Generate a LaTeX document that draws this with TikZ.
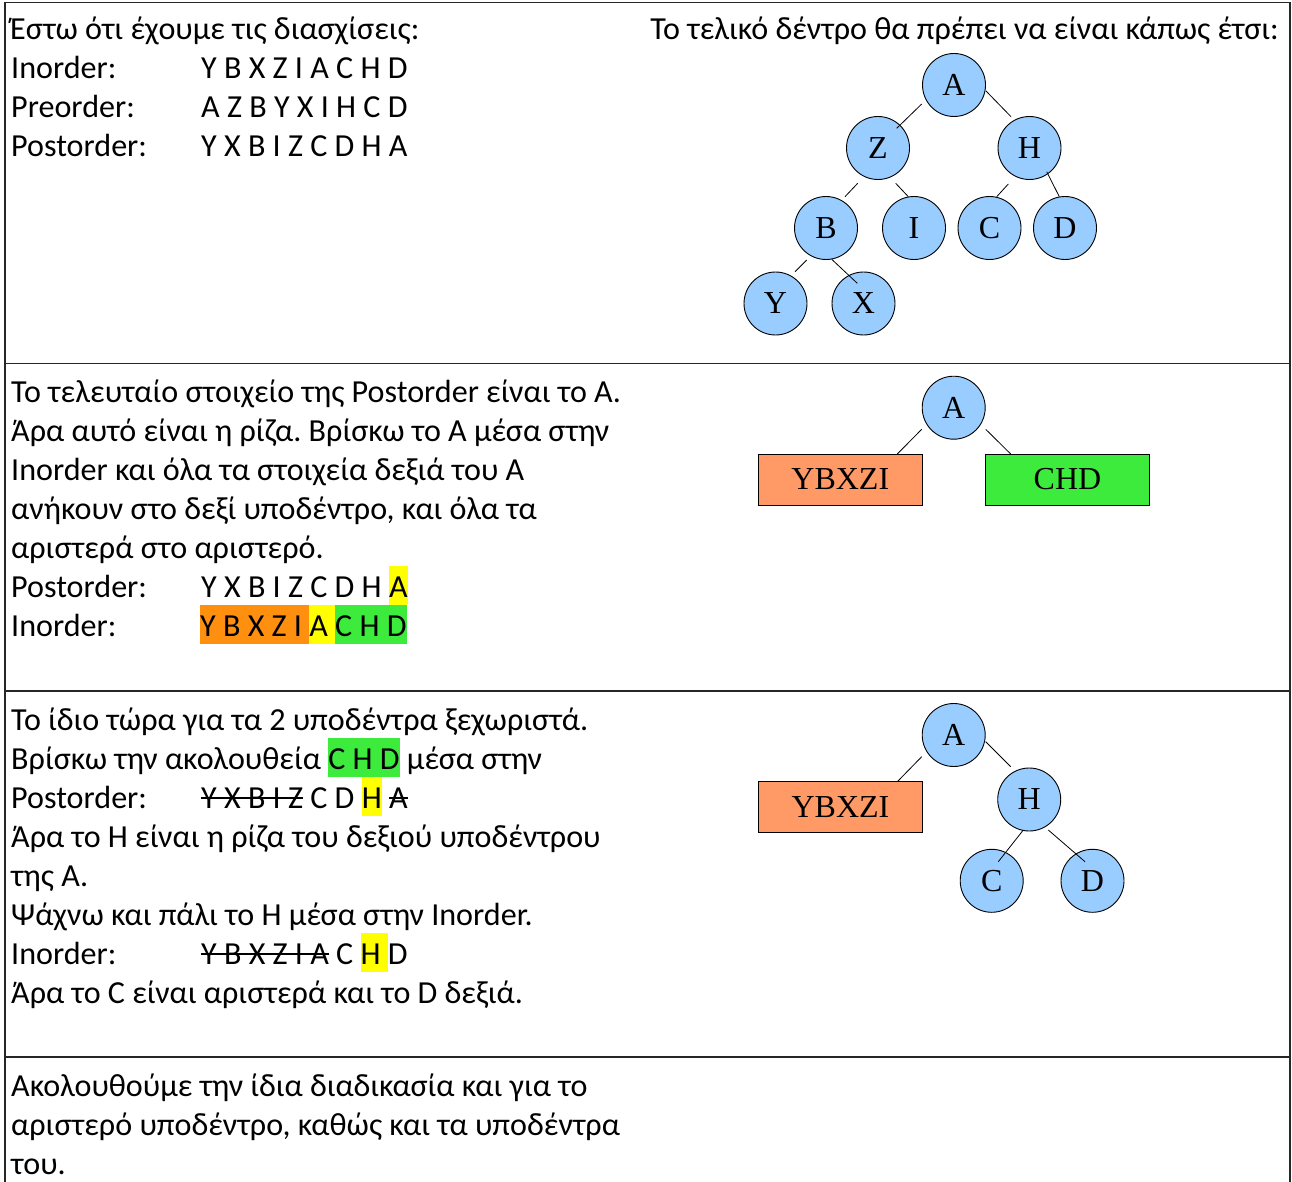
\documentclass[tikz,border=0pt]{standalone}
\usepackage{fontspec}
\setmainfont{Carlito}
\newfontfamily\treefont{Liberation Serif}
\usetikzlibrary{calc}
\definecolor{treeblue}{RGB}{153,204,255}
\definecolor{salmon}{RGB}{255,153,102}
\definecolor{hlgreen}{RGB}{61,235,61}
\definecolor{hlorange}{RGB}{255,143,15}
\definecolor{hlyellow}{RGB}{255,255,0}
\frenchspacing
\newcommand\bodyfont{\fontsize{32.1}{39}\selectfont\frenchspacing}
\newcommand\treefs{\treefont\fontsize{32}{36}\selectfont}
\newcommand\hlc[2]{{\setlength{\fboxsep}{0pt}\colorbox{#1}{\rule[-7.8pt]{0pt}{38.8pt}#2}}}
\newcommand\stk[1]{\sbox0{#1}\rlap{\rule[9.5pt]{\wd0}{1.3pt}}\usebox0}
\begin{document}
\begin{tikzpicture}[x=1pt,y=-1pt,
  txt/.style={anchor=base west,inner sep=0pt,font=\bodyfont},
  rtxt/.style={anchor=base east,inner sep=0pt,font=\bodyfont},
  bnode/.style={circle,draw=black,line width=0.9pt,fill=treeblue,minimum size=63pt,inner sep=0pt,font=\treefs},
  sbox/.style={rectangle,draw=black,line width=0.9pt,minimum width=164pt,minimum height=51pt,inner sep=0pt,font=\treefs},
  edge/.style={draw=black,line width=0.8pt},
  frame/.style={draw=black!85,line width=1.3pt}]
\useasboundingbox (0,0) rectangle (1292,1182);
% frame
\draw[frame] (5,1182) -- (5,2.5) -- (1290,2.5) -- (1290,1182);
\draw[frame] (5,363.5) -- (1290,363.5);
\draw[frame] (5,691) -- (1290,691);
\draw[frame] (5,1057) -- (1290,1057);

% panel 1 text
\node[txt] (t1a) at (10,40) {Έστω ότι έχουμε τις διασχίσεις:};
\node[txt] (t1b) at (11,79) {Inorder:};
\node[txt] (s1b) at (201,79) {Y B X Z I A C H D};
\node[txt] (t1c) at (11,118) {Preorder:};
\node[txt] (s1c) at (201,118) {A Z B Y X I H C D};
\node[txt] (t1d) at (11,157) {Postorder:};
\node[txt] (s1d) at (201,157) {Y X B I Z C D H A};
\node[rtxt] (t1r) at (1279,40) {Το τελικό δέντρο θα πρέπει να είναι κάπως έτσι:};

% tree 1
\node[bnode] (A) at (954,85) {A};
\node[bnode] (Z) at (878,148) {Z};
\node[bnode] (H) at (1029.5,148) {H};
\node[bnode] (B) at (826,228) {B};
\node[bnode] (I) at (914,228) {I};
\node[bnode] (C) at (989.5,228) {C};
\node[bnode] (D) at (1065,228) {D};
\node[bnode] (Y) at (775.5,303.5) {Y};
\node[bnode] (X) at (863.5,303.5) {X};
\draw[edge] ($(A)+(-32.3,19)$) -- ($(Z)+(18.7,-19.7)$);
\draw[edge] ($(A)+(31.7,5.7)$) -- ($(H)+(-18.5,-31.3)$);
\draw[edge] ($(Z)+(-20.3,35.3)$) -- ($(B)+(19,-31.3)$);
\draw[edge] ($(Z)+(17.7,35.3)$) -- ($(I)+(-5.7,-31.3)$);
\draw[edge] ($(H)+(-21.2,36)$) -- ($(C)+(7.2,-31.3)$);
\draw[edge] ($(H)+(17.2,23.7)$) -- ($(D)+(-5.7,-31.3)$);
\draw[edge] ($(B)+(-19.3,32)$) -- ($(Y)+(19.5,-31.8)$);
\draw[edge] ($(B)+(5.7,31.3)$) -- ($(X)+(-6.2,-20.2)$);

% panel 2 text
\node[txt] (t2a) at (11,402) {Το τελευταίο στοιχείο της Postorder είναι το A.};
\node[txt] (t2b) at (11,441) {Άρα αυτό είναι η ρίζα. Βρίσκω το A μέσα στην};
\node[txt] (t2c) at (11,480) {Inorder και όλα τα στοιχεία δεξιά του A};
\node[txt] (t2d) at (11,519) {ανήκουν στο δεξί υποδέντρο, και όλα τα};
\node[txt] (t2e) at (11,558) {αριστερά στο αριστερό.};
\node[txt] (t2f) at (11,597) {Postorder:};
\node[txt] (s2f) at (201,597) {Y X B I Z C D H \hlc{hlyellow}{A}};
\node[txt] (t2g) at (11,636) {Inorder:};
\node[txt] (s2g) at (200,636) {\hlc{hlorange}{Y B X Z I }\hlc{hlyellow}{A }\hlc{hlgreen}{C H D}};

% tree 2
\node[bnode] (A2) at (953.7,407.7) {A};
\node[sbox,fill=salmon] (L2) at (840.3,479.5) {YBXZI};
\node[sbox,fill=hlgreen] (R2) at (1067.5,479.5) {CHD};
\draw[edge] ($(A2)+(-32,21.6)$) -- ($(L2)+(57,-25.5)$);
\draw[edge] ($(A2)+(32,21.6)$) -- ($(R2)+(-56.8,-25.5)$);

% panel 3 text
\node[txt] (t3a) at (11,730) {Το ίδιο τώρα για τα 2 υποδέντρα ξεχωριστά.};
\node[txt] (t3b) at (11,769) {Βρίσκω την ακολουθεία \hlc{hlgreen}{C H D} μέσα στην};
\node[txt] (t3c) at (11,808) {Postorder:};
\node[txt] (s3c) at (201,808) {\stk{Y X B I Z} C D \hlc{hlyellow}{H} \stk{A}};
\node[txt] (t3d) at (11,847) {Άρα το H είναι η ρίζα του δεξιού υποδέντρου};
\node[txt] (t3e) at (11,886) {της A.};
\node[txt] (t3f) at (11,925) {Ψάχνω και πάλι το H μέσα στην Inorder.};
\node[txt] (t3g) at (11,964) {Inorder:};
\node[txt] (s3g) at (201,964) {\stk{Y B X Z I A} C \hlc{hlyellow}{H }D};
\node[txt] (t3h) at (11,1003) {Άρα το C είναι αριστερά και το D δεξιά.};

% tree 3
\node[bnode] (A3) at (953.7,735) {A};
\node[sbox,fill=salmon] (L3) at (840.5,807) {YBXZI};
\node[bnode] (H3) at (1029.2,799.5) {H};
\node[bnode] (C3) at (991.7,880.8) {C};
\node[bnode] (D3) at (1092.5,880.8) {D};
\draw[edge] ($(A3)+(-32,21.7)$) -- ($(L3)+(56.8,-25.3)$);
\draw[edge] ($(A3)+(32,6.7)$) -- ($(H3)+(-18.5,-32.8)$);
\draw[edge] ($(H3)+(-5.9,30.5)$) -- ($(C3)+(6.6,-19.1)$);
\draw[edge] ($(H3)+(19.1,30.5)$) -- ($(D3)+(-7.5,-19.1)$);

% panel 4 text
\node[txt] (t4a) at (11,1096) {Ακολουθούμε την ίδια διαδικασία και για το};
\node[txt] (t4b) at (11,1135) {αριστερό υποδέντρο, καθώς και τα υποδέντρα};
\node[txt] (t4c) at (11,1174) {του.};
\end{tikzpicture}
\end{document}
